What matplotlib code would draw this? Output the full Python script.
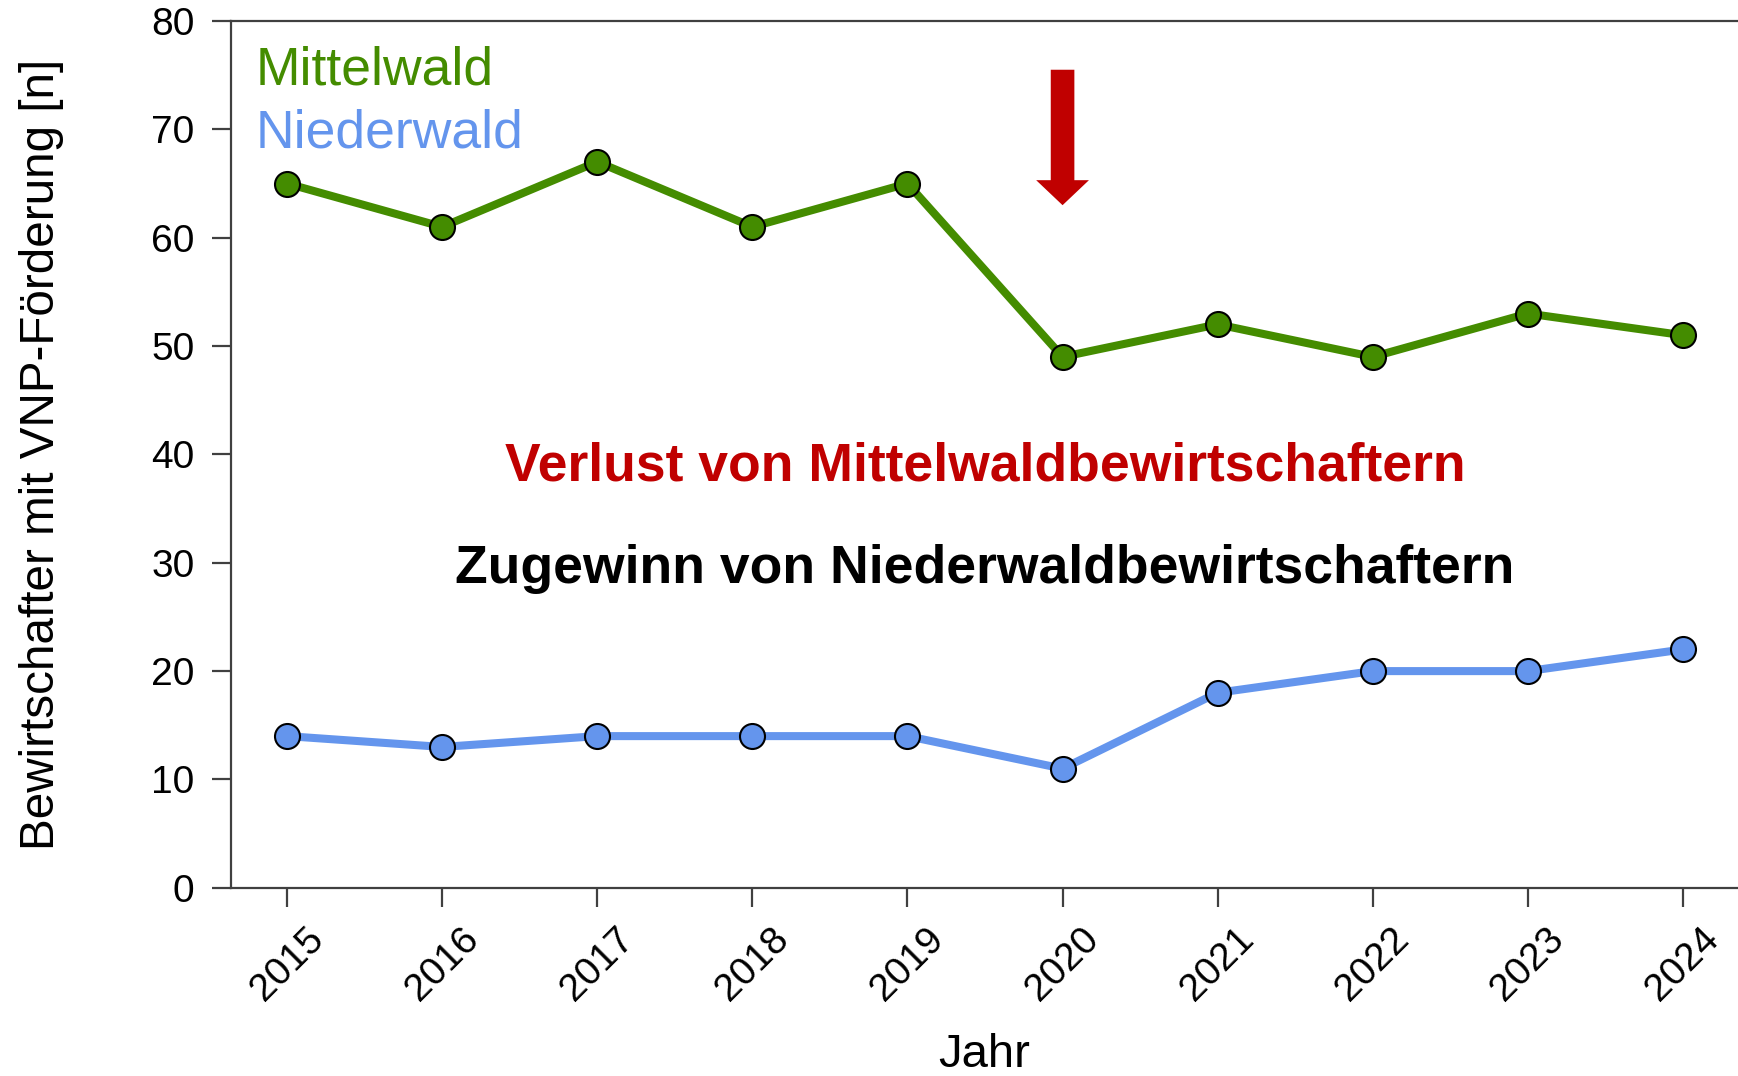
import matplotlib.pyplot as plt

# values
years = [2015, 2016, 2017, 2018, 2019, 2020, 2021, 2022, 2023, 2024]
mittelwald = [65, 61, 67, 61, 65, 49, 52, 49, 53, 51]
niederwald = [14, 13, 14, 14, 14, 11, 18, 20, 20, 22]
year_labels = [str(y) for y in years]
y_ticks = [0, 10, 20, 30, 40, 50, 60, 70, 80]

green = '#448c00'
blue = '#6495ed'
red = '#c00000'

plt.rcParams['font.family'] = ['Liberation Sans', 'DejaVu Sans']

fig = plt.figure(figsize=(17.38, 10.76), dpi=100)
ax = fig.add_axes([0.1327, 0.1749, 0.8673, 0.8056])

marker_style = dict(marker='o', markersize=18, markeredgecolor='black', markeredgewidth=1.5)
ax.plot(years, mittelwald, color=green, lw=5.8, markerfacecolor=green, **marker_style)
ax.plot(years, niederwald, color=blue, lw=5.8, markerfacecolor=blue, **marker_style)

ax.set_xlim(2014.636, 2024.355)
ax.set_ylim(0, 80)
ax.set_xticks(years)
ax.set_xticklabels(year_labels, rotation=45, ha='center', va='top')
ax.set_yticks(y_ticks)

for side in ['left', 'bottom', 'top']:
    ax.spines[side].set_color('#404040')
    ax.spines[side].set_linewidth(1.6)
ax.spines['right'].set_visible(False)
ax.tick_params(axis='both', direction='out', length=14, width=1.6, color='#404040', labelsize=28)
ax.tick_params(axis='x', pad=10)
ax.tick_params(axis='y', pad=12)

ax.set_xlabel('Jahr', fontsize=34, labelpad=18)
ax.set_ylabel('Bewirtschafter mit VNP-Förderung [n]', fontsize=34.3, labelpad=63)

# legend as coloured text
ax.text(2014.8, 75.4, 'Mittelwald', color=green, fontsize=38.5, va='center', ha='left')
ax.text(2014.8, 69.6, 'Niederwald', color=blue, fontsize=38.5, va='center', ha='left')

ax.text(2019.5, 38.9, 'Verlust von Mittelwaldbewirtschaftern', color=red, fontsize=38.5,
        fontweight='bold', ha='center', va='center')
ax.text(2019.5, 29.4, 'Zugewinn von Niederwaldbewirtschaftern', color='black', fontsize=38.5,
        fontweight='bold', ha='center', va='center')

ax.annotate('', xy=(2020, 63.0), xytext=(2020, 75.5),
            arrowprops=dict(facecolor=red, edgecolor='none', width=17, headwidth=38,
                            headlength=18, shrink=0))

plt.savefig('out.png')
